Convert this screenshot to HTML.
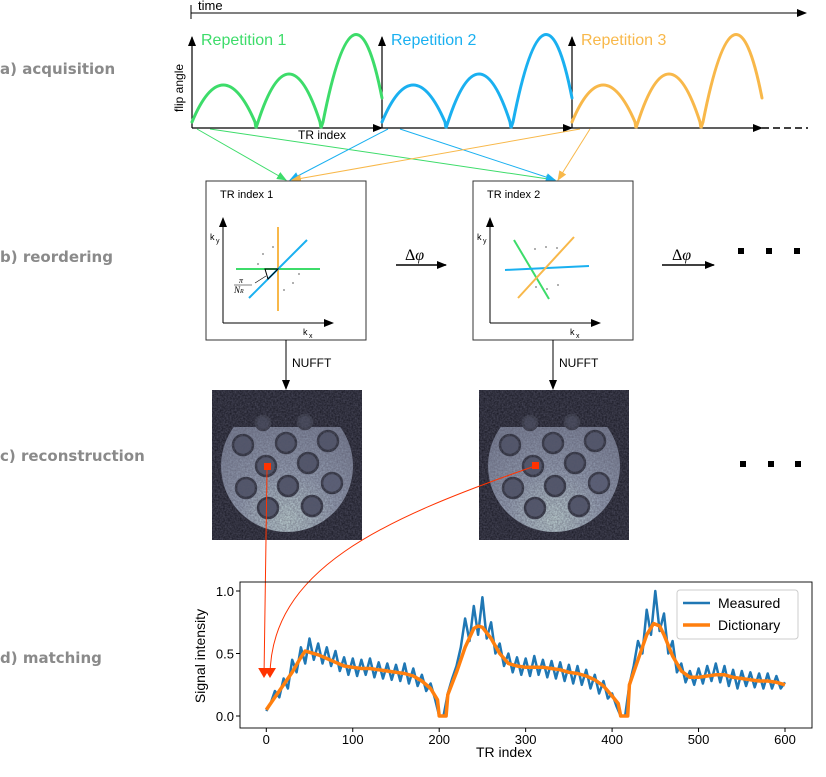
<!DOCTYPE html>
<html><head><meta charset="utf-8">
<style>
body{margin:0;background:#fff;}
svg{display:block;font-family:"Liberation Sans","DejaVu Sans",sans-serif;}
.lbl{font-weight:bold;fill:#8a8a8a;font-size:15px;font-family:"DejaVu Sans","Liberation Sans",sans-serif;}
</style></head>
<body>
<svg id="fig" width="826" height="777" viewBox="0 0 826 777" xmlns="http://www.w3.org/2000/svg">
<defs>
<marker id="ab" markerWidth="10" markerHeight="8" refX="9" refY="4" orient="auto" markerUnits="userSpaceOnUse"><path d="M0,0 L10,4 L0,8 z" fill="#000"/></marker>
<marker id="ag" markerWidth="10" markerHeight="8" refX="9" refY="4" orient="auto" markerUnits="userSpaceOnUse"><path d="M0,0 L10,4 L0,8 z" fill="#3ddc6a"/></marker>
<marker id="abl" markerWidth="10" markerHeight="8" refX="9" refY="4" orient="auto" markerUnits="userSpaceOnUse"><path d="M0,0 L10,4 L0,8 z" fill="#1ab0f0"/></marker>
<marker id="ao" markerWidth="10" markerHeight="8" refX="9" refY="4" orient="auto" markerUnits="userSpaceOnUse"><path d="M0,0 L10,4 L0,8 z" fill="#f8b84a"/></marker>
<marker id="ar" markerWidth="10" markerHeight="12" refX="9" refY="6" orient="auto" markerUnits="userSpaceOnUse"><path d="M0,0 L10,6 L0,12 z" fill="#ff3300"/></marker>
<filter id="noise" x="0" y="0" width="1" height="1"><feTurbulence type="fractalNoise" baseFrequency="0.6" numOctaves="2" seed="3"/><feColorMatrix values="0 0 0 0 0.1  0 0 0 0 0.1  0 0 0 0 0.15  0 0 0 0.9 -0.1"/><feComposite in2="SourceGraphic" operator="in"/></filter>
<radialGradient id="bowl" cx="0.5" cy="0.9" r="0.75"><stop offset="0" stop-color="#c4d8d8"/><stop offset="0.5" stop-color="#96a0b4"/><stop offset="1" stop-color="#7d8499"/></radialGradient>
<clipPath id="bowlclip"><rect x="0" y="37" width="150" height="120"/></clipPath>
<g id="phantom">
<rect x="0" y="0" width="150" height="150" fill="#1b1b26"/>
<circle cx="75" cy="76" r="66" fill="url(#bowl)" clip-path="url(#bowlclip)"/>
<g fill="#4f5469" stroke="#2a2c38" stroke-width="2.5">
<circle cx="51" cy="33" r="7" fill="#3c3f4f" stroke="#31333f"/>
<circle cx="93" cy="32" r="7" fill="#3c3f4f" stroke="#31333f"/>
<circle cx="31" cy="55" r="10"/><circle cx="74" cy="53" r="10"/><circle cx="116" cy="51" r="10"/>
<circle cx="54" cy="76" r="10"/><circle cx="96" cy="73" r="10"/>
<circle cx="34" cy="98" r="10"/><circle cx="76" cy="96" r="10"/><circle cx="120" cy="93" r="10" fill="#5a6078"/>
<circle cx="56" cy="118" r="10"/><circle cx="100" cy="116" r="10"/>
</g>
<rect x="0" y="0" width="150" height="150" fill="#fff" filter="url(#noise)"/>
</g>
</defs>

<text class="lbl" x="0" y="74">a) acquisition</text>
<text class="lbl" x="0" y="262">b) reordering</text>
<text class="lbl" x="0" y="461">c) reconstruction</text>
<text class="lbl" x="0" y="663">d) matching</text>

<g>
<line x1="191" y1="5" x2="191" y2="19" stroke="#000"/>
<line x1="191" y1="13" x2="806" y2="13" stroke="#000" marker-end="url(#ab)"/>
<text x="198" y="10" font-size="13">time</text>
</g>
<g stroke="#000" stroke-width="1.2">
<line x1="192" y1="128" x2="192" y2="37" marker-end="url(#ab)"/>
<line x1="382" y1="128" x2="382" y2="37" marker-end="url(#ab)"/>
<line x1="572" y1="128" x2="572" y2="37" marker-end="url(#ab)"/>
<line x1="192" y1="128" x2="382" y2="128" marker-end="url(#ab)"/>
<line x1="382" y1="128" x2="572" y2="128" marker-end="url(#ab)"/>
<line x1="572" y1="128" x2="762" y2="128" marker-end="url(#ab)"/>
<line x1="762" y1="128" x2="808" y2="128" stroke-dasharray="7,4" stroke-width="1.6"/>
</g>
<text x="183" y="112" font-size="12" transform="rotate(-90 183 112)">flip angle</text>
<text x="298" y="139" font-size="12">TR index</text>
<g fill="none" stroke-width="3" stroke-linecap="round">
<g stroke="#3ddc6a">
<path d="M192,122 Q223,48 255,122 L256,128 L258,122 Q289,26 320,122 L321,128 L323,122 Q355,-40 382,98"/>
</g>
<g stroke="#1ab0f0" transform="translate(190,0)">
<path d="M192,122 Q223,48 255,122 L256,128 L258,122 Q289,26 320,122 L321,128 L323,122 Q355,-40 382,98"/>
</g>
<g stroke="#f8b84a" transform="translate(380,0)">
<path d="M192,122 Q223,48 255,122 L256,128 L258,122 Q289,26 320,122 L321,128 L323,122 Q355,-40 382,98"/>
</g>
</g>
<text x="201" y="45" font-size="16" fill="#3ddc6a">Repetition 1</text>
<text x="391" y="45" font-size="16" fill="#1ab0f0">Repetition 2</text>
<text x="581" y="45" font-size="16" fill="#f8b84a">Repetition 3</text>

<g stroke-width="1">
<line x1="197" y1="129" x2="286" y2="180" stroke="#3ddc6a" marker-end="url(#ag)"/>
<line x1="210" y1="129" x2="555" y2="180" stroke="#3ddc6a" marker-end="url(#ag)"/>
<line x1="388" y1="129" x2="290" y2="180" stroke="#1ab0f0" marker-end="url(#abl)"/>
<line x1="400" y1="129" x2="555" y2="180" stroke="#1ab0f0" marker-end="url(#abl)"/>
<line x1="580" y1="129" x2="292" y2="180" stroke="#f8b84a" marker-end="url(#ao)"/>
<line x1="590" y1="129" x2="558" y2="180" stroke="#f8b84a" marker-end="url(#ao)"/>
</g>

<g>
<rect x="206" y="181" width="160" height="159" fill="#fff" stroke="#333"/>
<text x="220" y="198" font-size="11">TR index 1</text>
<line x1="223" y1="323" x2="223" y2="218" stroke="#000" marker-end="url(#ab)"/>
<line x1="223" y1="323" x2="333" y2="323" stroke="#000" marker-end="url(#ab)"/>
<text x="210" y="240" font-size="9">k</text><text x="216" y="243" font-size="7">y</text>
<text x="303" y="335" font-size="9">k</text><text x="309" y="338" font-size="7">x</text>
<line x1="236" y1="269" x2="320" y2="269" stroke="#3ddc6a" stroke-width="2"/>
<line x1="278" y1="227" x2="278" y2="311" stroke="#f8b84a" stroke-width="2"/>
<line x1="249" y1="298" x2="307" y2="240" stroke="#1ab0f0" stroke-width="2"/>
<path d="M265,269 L278,269 L268,279 Z" fill="none" stroke="#000"/>
<line x1="255" y1="283" x2="266" y2="276" stroke="#000" stroke-width="0.6"/>
<text x="239" y="283" font-size="8" font-style="italic" font-family="Liberation Serif,serif">π</text>
<line x1="234" y1="285" x2="252" y2="285" stroke="#000" stroke-width="0.6"/>
<text x="234" y="293" font-size="9" font-style="italic" font-family="Liberation Serif,serif">N<tspan font-size="6">R</tspan></text>
<g fill="#999"><circle cx="258" cy="264" r="1"/><circle cx="263" cy="254" r="1"/><circle cx="273" cy="247" r="1"/><circle cx="299" cy="274" r="1"/><circle cx="293" cy="283" r="1"/><circle cx="284" cy="290" r="1"/></g>
</g>
<g>
<rect x="473" y="181" width="160" height="159" fill="#fff" stroke="#333"/>
<text x="487" y="198" font-size="11">TR index 2</text>
<line x1="490" y1="323" x2="490" y2="218" stroke="#000" marker-end="url(#ab)"/>
<line x1="490" y1="323" x2="600" y2="323" stroke="#000" marker-end="url(#ab)"/>
<text x="477" y="240" font-size="9">k</text><text x="483" y="243" font-size="7">y</text>
<text x="570" y="335" font-size="9">k</text><text x="576" y="338" font-size="7">x</text>
<line x1="514" y1="240" x2="549" y2="299" stroke="#3ddc6a" stroke-width="2"/>
<line x1="505" y1="270" x2="589" y2="266" stroke="#1ab0f0" stroke-width="2"/>
<line x1="518" y1="298" x2="574" y2="237" stroke="#f8b84a" stroke-width="2"/>
<g fill="#999"><circle cx="535" cy="249" r="1"/><circle cx="546" cy="247" r="1"/><circle cx="557" cy="248" r="1"/><circle cx="536" cy="287" r="1"/><circle cx="547" cy="289" r="1"/><circle cx="558" cy="285" r="1"/></g>
</g>
<g>
<text x="405" y="260" font-size="16" font-family="Liberation Serif,serif">Δ<tspan font-style="italic">φ</tspan></text>
<line x1="396" y1="265" x2="446" y2="265" stroke="#000" stroke-width="1.5" marker-end="url(#ab)"/>
<text x="672" y="260" font-size="16" font-family="Liberation Serif,serif">Δ<tspan font-style="italic">φ</tspan></text>
<line x1="662" y1="265" x2="714" y2="265" stroke="#000" stroke-width="1.5" marker-end="url(#ab)"/>
</g>
<g fill="#000">
<rect x="738" y="248" width="6" height="6"/><rect x="766" y="248" width="6" height="6"/><rect x="794" y="248" width="6" height="6"/>
<rect x="740" y="461" width="6" height="6"/><rect x="768" y="461" width="6" height="6"/><rect x="795" y="461" width="6" height="6"/>
</g>

<g>
<line x1="286" y1="340" x2="286" y2="389" stroke="#000" marker-end="url(#ab)"/>
<text x="292" y="367" font-size="12">NUFFT</text>
<line x1="553" y1="340" x2="553" y2="389" stroke="#000" marker-end="url(#ab)"/>
<text x="559" y="367" font-size="12">NUFFT</text>
</g>

<use href="#phantom" x="212" y="390"/>
<use href="#phantom" x="479" y="390"/>
<rect x="264" y="463" width="7" height="7" fill="#ff3300"/>
<rect x="532" y="462" width="7" height="7" fill="#ff3300"/>
<line x1="267" y1="470" x2="264" y2="677" stroke="#ff3300" stroke-width="1" marker-end="url(#ar)"/>
<path d="M535,466 C380,520 270,570 270,677" fill="none" stroke="#ff3300" stroke-width="1" marker-end="url(#ar)"/>

<g id="chart"></g>
</svg>
<script>
const dictX=[0,10,20,30,40,45,50,60,70,80,90,100,110,120,130,140,150,160,170,180,190,198,200,208,210,220,230,240,245,250,260,270,280,290,300,310,320,330,340,350,360,370,380,390,400,407,410,418,420,430,440,448,455,460,470,480,490,500,510,520,530,540,550,560,570,580,590,600];
const dictY=[0.05,0.15,0.25,0.35,0.47,0.52,0.51,0.49,0.46,0.43,0.40,0.39,0.38,0.38,0.37,0.36,0.35,0.34,0.32,0.28,0.22,0.13,0,0,0.17,0.35,0.55,0.70,0.72,0.71,0.62,0.50,0.42,0.40,0.39,0.39,0.39,0.38,0.37,0.35,0.34,0.32,0.29,0.24,0.16,0.1,0,0,0.25,0.45,0.65,0.74,0.72,0.65,0.48,0.36,0.31,0.31,0.32,0.33,0.33,0.31,0.30,0.29,0.28,0.28,0.27,0.25];
const measX=[0,5,10,15,20,25,30,35,40,45,50,55,60,65,70,75,80,85,90,95,100,105,110,115,120,125,130,135,140,145,150,155,160,165,170,175,180,185,190,195,200,205,210,215,220,225,230,235,240,245,250,255,260,265,270,275,280,285,290,295,300,305,310,315,320,325,330,335,340,345,350,355,360,365,370,375,380,385,390,395,400,405,410,415,420,425,430,435,440,445,450,455,460,465,470,475,480,485,490,495,500,505,510,515,520,525,530,535,540,545,550,555,560,565,570,575,580,585,590,595,600];
const measY=[0.04,0.10,0.20,0.15,0.30,0.22,0.45,0.35,0.55,0.42,0.62,0.45,0.58,0.42,0.55,0.40,0.52,0.36,0.47,0.33,0.46,0.32,0.45,0.33,0.46,0.31,0.43,0.30,0.42,0.29,0.41,0.28,0.42,0.26,0.38,0.24,0.33,0.20,0.26,0.14,0.0,0.0,0.18,0.30,0.40,0.55,0.78,0.60,0.88,0.65,0.95,0.62,0.75,0.50,0.58,0.40,0.50,0.35,0.47,0.33,0.46,0.32,0.48,0.33,0.45,0.31,0.44,0.30,0.43,0.28,0.41,0.26,0.40,0.25,0.37,0.22,0.33,0.18,0.28,0.14,0.18,0.08,0.0,0.0,0.25,0.40,0.60,0.50,0.85,0.65,1.0,0.68,0.82,0.50,0.60,0.35,0.42,0.27,0.36,0.25,0.38,0.26,0.40,0.28,0.42,0.27,0.40,0.24,0.37,0.22,0.36,0.24,0.35,0.23,0.34,0.22,0.34,0.22,0.32,0.22,0.27];
const xTicks=[0,100,200,300,400,500,600];
const yTicks=[0.0,0.5,1.0];
const NS="http://www.w3.org/2000/svg";
const g=document.getElementById('chart');
const L=240,R=812,T=582,B=728;
function sx(v){return 266.3+(v/600)*(785-266.3);}
function sy(v){return 716-v*(716-591);}
function mk(tag,attrs,parent){const e=document.createElementNS(NS,tag);for(const k in attrs)e.setAttribute(k,attrs[k]);(parent||g).appendChild(e);return e;}
const frame=mk('rect',{x:L,y:T,width:R-L,height:B-T,fill:'none',stroke:'#000','stroke-width':0.9});


xTicks.forEach(t=>{
  const ln=mk('line',{x1:sx(t),x2:sx(t),y1:B,y2:B+4,stroke:'#000'});
  
  
  const tx=mk('text',{x:sx(t),y:B+16,'text-anchor':'middle','font-size':13});
  tx.textContent=t;
  
  
});
yTicks.forEach(t=>{
  const ln=mk('line',{x1:L-4,x2:L,y1:sy(t),y2:sy(t),stroke:'#000'});
  
  
  const tx=mk('text',{x:L-6,y:sy(t)+5,'text-anchor':'end','font-size':13});
  tx.textContent=t.toFixed(1);
  
  
});
const xt=mk('text',{x:504,y:757,'text-anchor':'middle','font-size':14});
xt.textContent='TR index';


const yt=mk('text',{x:205,y:656,'text-anchor':'middle','font-size':14,transform:'rotate(-90 205 656)'});
yt.textContent='Signal intensity';


const mline=mk('path',{d:measX.map((x,i)=>(i?'L':'M')+sx(x).toFixed(1)+','+sy(measY[i]).toFixed(1)).join(''),fill:'none',stroke:'#1f77b4','stroke-width':2.5,'stroke-linejoin':'round'});


const dline=mk('path',{d:dictX.map((x,i)=>(i?'L':'M')+sx(x).toFixed(1)+','+sy(dictY[i]).toFixed(1)).join(''),fill:'none',stroke:'#ff7f0e','stroke-width':3.5,'stroke-linejoin':'round'});


const lg=mk('g',{});


mk('rect',{x:677,y:590,width:121,height:49,rx:3,fill:'#fff',stroke:'#ccc'},lg);
mk('line',{x1:683,x2:710,y1:603,y2:603,stroke:'#1f77b4','stroke-width':2.5},lg);
mk('line',{x1:683,x2:710,y1:625,y2:625,stroke:'#ff7f0e','stroke-width':3.5},lg);
const l1=mk('text',{x:718,y:608,'font-size':14},lg);l1.textContent='Measured';


const l2=mk('text',{x:718,y:630,'font-size':14},lg);l2.textContent='Dictionary';


</script>
</body></html>
